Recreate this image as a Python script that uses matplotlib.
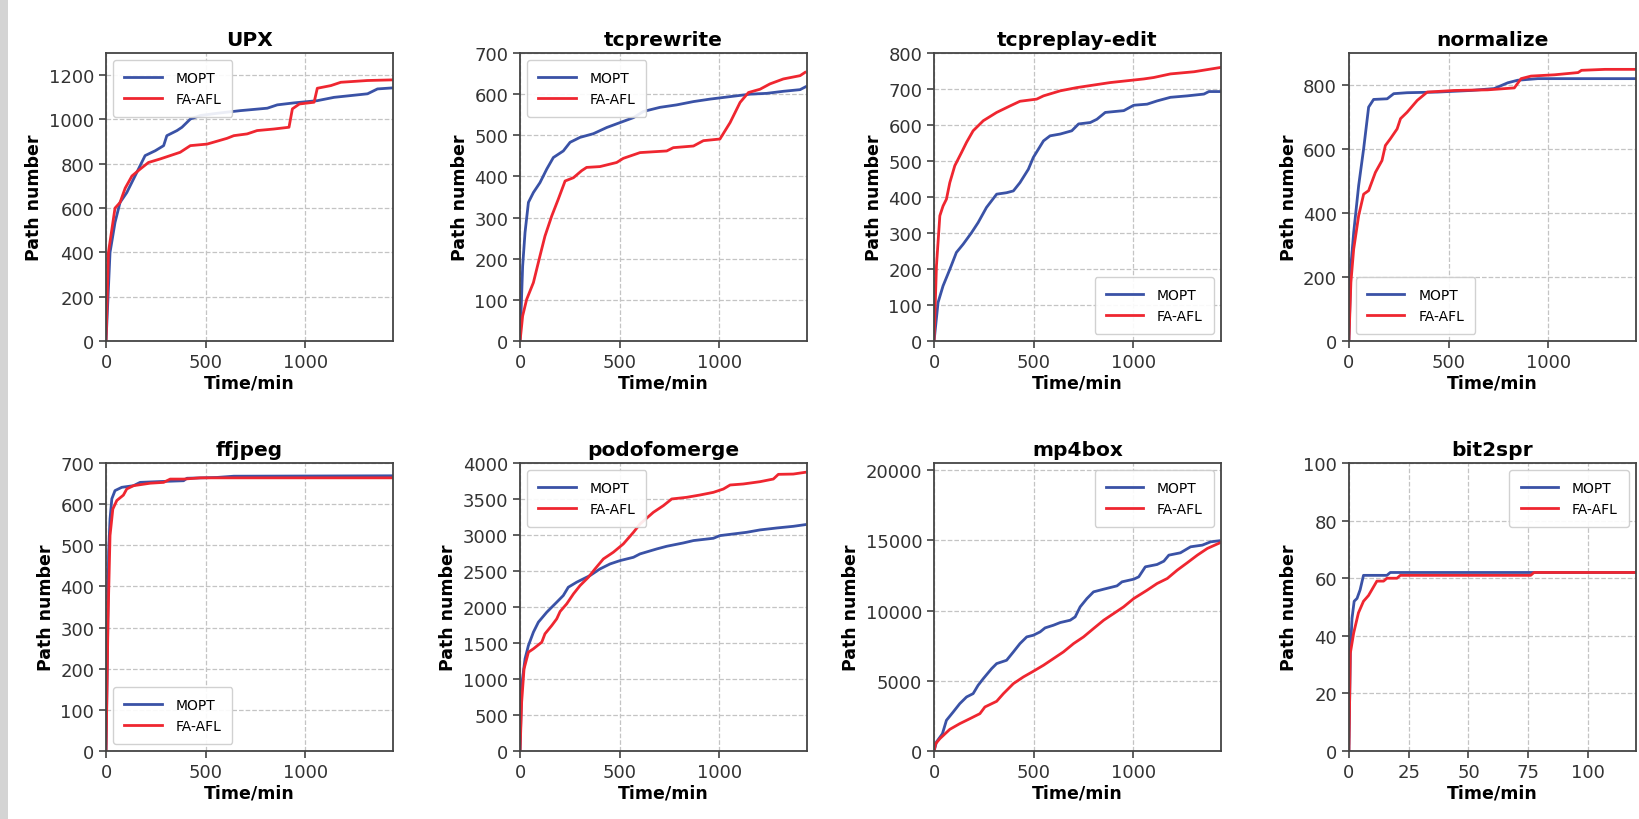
import matplotlib
matplotlib.use("Agg")
import matplotlib.pyplot as plt
from matplotlib.patches import Rectangle

# ── datos (x en minutos, y = número de caminos) ──────────────────────────────
titles = ["UPX", "tcprewrite", "tcpreplay-edit", "normalize",
          "ffjpeg", "podofomerge", "mp4box", "bit2spr"]

upx_mopt_x = [0, 20, 45, 70, 104, 146, 196, 247, 289, 305, 356, 381, 423, 473, 557, 674, 809, 859, 943, 1060, 1144, 1312, 1362, 1443]
upx_mopt_y = [0, 400, 535, 625, 670, 746, 837, 859, 882, 927, 950, 965, 1002, 1018, 1028, 1040, 1051, 1066, 1075, 1085, 1100, 1116, 1138, 1143]
upx_fa_x = [0, 12, 45, 70, 96, 130, 171, 213, 272, 322, 372, 423, 507, 607, 641, 708, 758, 842, 918, 935, 970, 1044, 1060, 1128, 1178, 1312, 1443]
upx_fa_y = [0, 400, 600, 625, 690, 745, 776, 806, 822, 837, 852, 882, 889, 915, 927, 935, 950, 957, 965, 1048, 1070, 1078, 1141, 1153, 1168, 1176, 1179]

tcpr_mopt_x = [0, 13, 25, 42, 67, 100, 134, 167, 217, 251, 301, 368, 435, 502, 569, 619, 702, 786, 870, 953, 1070, 1154, 1237, 1321, 1405, 1433]
tcpr_mopt_y = [0, 182, 264, 337, 361, 385, 418, 446, 462, 483, 495, 504, 519, 531, 543, 558, 568, 574, 582, 588, 595, 600, 602, 607, 611, 618]
tcpr_fa_x = [0, 13, 33, 67, 100, 125, 159, 192, 226, 268, 309, 334, 401, 485, 518, 602, 736, 769, 870, 920, 1003, 1054, 1104, 1146, 1204, 1254, 1321, 1405, 1430]
tcpr_fa_y = [0, 61, 101, 142, 207, 255, 304, 345, 389, 397, 414, 422, 424, 434, 444, 458, 462, 470, 474, 487, 491, 531, 580, 604, 612, 625, 637, 645, 653]

tcpe_mopt_x = [0, 20, 45, 79, 112, 146, 188, 221, 263, 314, 364, 398, 431, 473, 498, 549, 582, 633, 691, 725, 784, 817, 859, 952, 1002, 1069, 1119, 1186, 1270, 1354, 1379, 1434]
tcpe_mopt_y = [0, 107, 153, 199, 246, 269, 301, 329, 371, 408, 412, 417, 440, 477, 510, 556, 570, 575, 584, 603, 607, 616, 635, 640, 655, 658, 667, 677, 681, 686, 693, 693]
tcpe_fa_x = [0, 12, 29, 45, 62, 79, 104, 138, 163, 196, 247, 314, 381, 431, 515, 549, 633, 716, 800, 884, 968, 1052, 1102, 1186, 1304, 1438]
tcpe_fa_y = [0, 209, 348, 375, 394, 440, 487, 524, 552, 584, 612, 635, 653, 666, 672, 681, 695, 704, 711, 718, 723, 728, 732, 742, 748, 760]

norm_mopt_x = [0, 10, 24, 49, 74, 99, 124, 192, 225, 292, 444, 612, 729, 797, 847, 948, 1444]
norm_mopt_y = [0, 235, 339, 486, 601, 731, 755, 757, 773, 776, 778, 783, 789, 807, 815, 820, 820]
norm_fa_x = [0, 10, 24, 49, 74, 99, 133, 166, 183, 208, 242, 259, 292, 343, 393, 528, 696, 830, 864, 914, 1032, 1150, 1167, 1285, 1444]
norm_fa_y = [0, 183, 287, 392, 459, 470, 527, 564, 611, 632, 663, 695, 715, 752, 778, 783, 785, 791, 820, 828, 832, 839, 846, 849, 849]

ffj_mopt_x = [0, 7, 13, 20, 29, 45, 79, 138, 171, 272, 389, 406, 557, 641, 1443]
ffj_mopt_y = [0, 240, 483, 564, 613, 633, 641, 645, 653, 655, 657, 663, 665, 668, 669]
ffj_fa_x = [0, 10, 20, 34, 54, 87, 104, 138, 222, 289, 322, 389, 473, 641, 1443]
ffj_fa_y = [0, 321, 524, 588, 609, 622, 637, 645, 651, 653, 661, 661, 664, 664, 664]

podo_mopt_x = [0, 8, 25, 42, 67, 92, 134, 184, 217, 242, 284, 351, 401, 452, 502, 569, 602, 686, 736, 819, 870, 970, 1003, 1070, 1137, 1204, 1288, 1371, 1430]
podo_mopt_y = [0, 911, 1281, 1466, 1651, 1790, 1928, 2067, 2160, 2275, 2345, 2437, 2529, 2599, 2645, 2691, 2738, 2807, 2844, 2890, 2923, 2955, 2992, 3015, 3038, 3071, 3098, 3121, 3144]
podo_fa_x = [0, 8, 20, 42, 67, 109, 125, 159, 184, 201, 234, 268, 301, 343, 376, 418, 468, 518, 569, 602, 669, 719, 761, 836, 903, 970, 1020, 1054, 1120, 1204, 1271, 1296, 1371, 1430]
podo_fa_y = [0, 680, 1142, 1373, 1420, 1512, 1628, 1743, 1836, 1938, 2044, 2183, 2298, 2414, 2529, 2668, 2761, 2876, 3038, 3154, 3316, 3408, 3501, 3524, 3556, 3593, 3639, 3695, 3709, 3741, 3778, 3843, 3847, 3871]

mp4_mopt_x = [0, 12, 42, 62, 96, 129, 163, 196, 221, 247, 289, 314, 364, 398, 431, 465, 498, 532, 557, 599, 633, 683, 708, 733, 767, 800, 851, 918, 943, 1002, 1027, 1060, 1119, 1153, 1178, 1236, 1287, 1346, 1388, 1430]
mp4_mopt_y = [0, 641, 1235, 2185, 2779, 3373, 3848, 4086, 4679, 5154, 5867, 6223, 6461, 7055, 7648, 8124, 8242, 8480, 8765, 8955, 9145, 9311, 9549, 10261, 10855, 11330, 11520, 11758, 12043, 12233, 12399, 13112, 13278, 13515, 13943, 14109, 14537, 14656, 14893, 14964]
mp4_fa_x = [0, 8, 29, 79, 129, 180, 230, 255, 314, 348, 398, 448, 498, 549, 599, 649, 700, 750, 800, 851, 901, 951, 1002, 1069, 1119, 1170, 1220, 1270, 1321, 1371, 1438]
mp4_fa_y = [0, 523, 879, 1544, 1948, 2304, 2660, 3135, 3539, 4086, 4798, 5273, 5677, 6105, 6580, 7055, 7648, 8124, 8717, 9311, 9786, 10261, 10855, 11449, 11924, 12280, 12874, 13397, 13943, 14418, 14846]

bit_mopt_x = [0, 0.6, 1.3, 2.2, 3.4, 4.7, 6.1, 15.9, 17.3, 76.7, 120]
bit_mopt_y = [0, 34, 46, 52, 53, 56, 61, 61, 62, 62, 62]
bit_fa_x = [0, 0.6, 2, 4, 6.1, 8.2, 9.6, 11.7, 14.5, 15.9, 20.1, 21.5, 76, 77.4, 120]
bit_fa_y = [0, 34, 41, 48, 52, 54, 56, 59, 59, 60, 60, 61, 61, 62, 62]

series = [
    (upx_mopt_x, upx_mopt_y, upx_fa_x, upx_fa_y),
    (tcpr_mopt_x, tcpr_mopt_y, tcpr_fa_x, tcpr_fa_y),
    (tcpe_mopt_x, tcpe_mopt_y, tcpe_fa_x, tcpe_fa_y),
    (norm_mopt_x, norm_mopt_y, norm_fa_x, norm_fa_y),
    (ffj_mopt_x, ffj_mopt_y, ffj_fa_x, ffj_fa_y),
    (podo_mopt_x, podo_mopt_y, podo_fa_x, podo_fa_y),
    (mp4_mopt_x, mp4_mopt_y, mp4_fa_x, mp4_fa_y),
    (bit_mopt_x, bit_mopt_y, bit_fa_x, bit_fa_y),
]

xlims = [1440, 1440, 1440, 1440, 1440, 1440, 1440, 120]
ylims = [1300, 700, 800, 900, 700, 4000, 20500, 100]
yticks = [range(0, 1201, 200), range(0, 701, 100), range(0, 801, 100), range(0, 801, 200),
          range(0, 701, 100), range(0, 4001, 500), range(0, 20001, 5000), range(0, 101, 20)]
xticks = [[0, 500, 1000]] * 7 + [[0, 25, 50, 75, 100]]
legend_locs = ["upper left", "upper left", "lower right", "lower left",
               "lower left", "upper left", "upper right", "upper right"]

BLUE = "#3a52a6"
RED = "#ef2630"

fig = plt.figure(figsize=(16.39, 8.2), dpi=100)

# franja gris del borde izquierdo (captura original)
fig.patches.append(Rectangle((0, 0), 0.005, 1, transform=fig.transFigure,
                             facecolor="#d4d4d4", edgecolor="none", zorder=0))

lefts = [0.0647, 0.3173, 0.5699, 0.8230]
bottoms = [0.5829, 0.0829]
w, h = 0.1751, 0.3512

for i, (mx, my, fx, fy) in enumerate(series):
    ax = fig.add_axes([lefts[i % 4], bottoms[i // 4], w, h])
    ax.plot(mx, my, color=BLUE, lw=2.0, label="MOPT")
    ax.plot(fx, fy, color=RED, lw=2.0, label="FA-AFL")
    ax.set_xlim(0, xlims[i])
    ax.set_ylim(0, ylims[i])
    ax.set_xticks(xticks[i])
    ax.set_yticks(list(yticks[i]))
    ax.grid(True, ls="--", color="#c4c4c4", lw=0.9)
    ax.set_axisbelow(True)
    ax.tick_params(labelsize=13, colors="#333333", length=5, width=1.1)
    for s in ax.spines.values():
        s.set_color("#444444")
        s.set_linewidth(1.3)
    ax.set_title(titles[i], fontsize=14.5, fontweight="bold", pad=6)
    ax.set_xlabel("Time/min", fontsize=12.5, fontweight="bold", labelpad=2)
    ax.set_ylabel("Path number", fontsize=12.5, fontweight="bold")
    ax.legend(loc=legend_locs[i], fontsize=10, handlelength=2.7,
              handletextpad=1.0, borderpad=0.8, framealpha=0.9, edgecolor="#cccccc")

fig.savefig("out.png", dpi=100)
